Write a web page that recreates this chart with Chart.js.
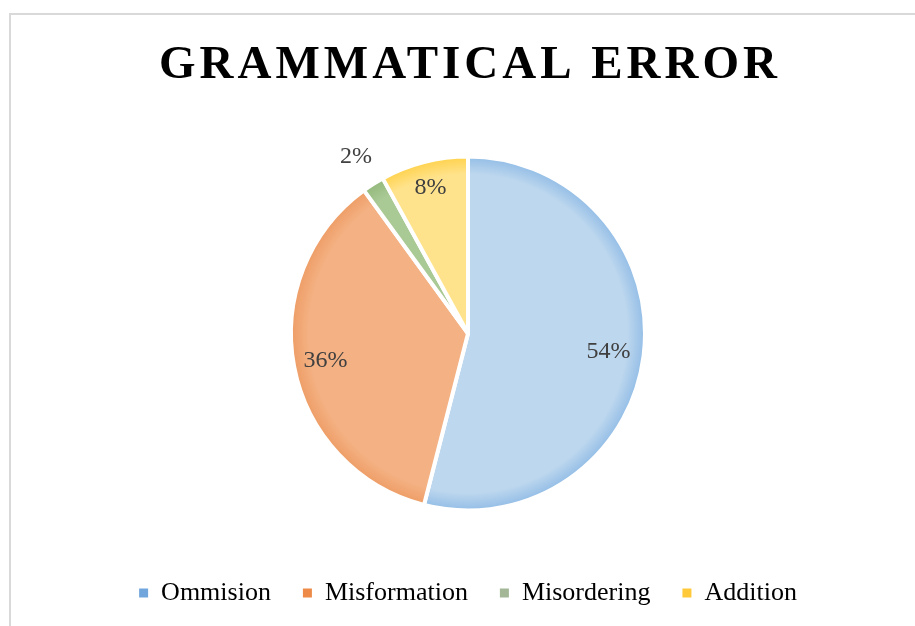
<!DOCTYPE html>
<html>
<head>
<meta charset="utf-8">
<script src="https://cdn.jsdelivr.net/npm/chart.js@4"></script>
<style>
  html, body { margin: 0; padding: 0; background: #fff; overflow: hidden; }
  #frame {
    position: absolute; left: 9px; top: 13px;
    border: 2px solid #d9d9d9;
    width: 914px; height: 640px;
  }
  canvas { display: block; }
</style>
</head>
<body>
<div id="frame"><canvas id="chart" width="914" height="640"></canvas></div>
<script>
const TITLE      = "GRAMMATICAL ERROR";
const CATEGORIES = ["Ommision", "Misformation", "Misordering", "Addition"];
const VALUES     = [54, 36, 2, 8];

// slice fills (light centre / darker rim) and legend marker colours
const FILLS   = ["#bdd7ee", "#f4b183", "#a9c995", "#ffe38c"];
const EDGES   = ["#93bde6", "#ee9d66", "#94b97c", "#ffd24d"];
const MARKERS = ["#70a6dc", "#ed8a48", "#a3b797", "#ffc93a"];

// how far out each percentage sits, as a share of the radius
const LABEL_POS = [0.8, 0.82, 1.18, 0.85];
const PIE_RADIUS = 177;

function sliceFill(c) {
  const i = c.dataIndex;
  const area = c.chart.chartArea;
  if (!area) return FILLS[i];
  const cx = (area.left + area.right) / 2;
  const cy = (area.top + area.bottom) / 2;
  const g = c.chart.ctx.createRadialGradient(cx, cy, 0, cx, cy, PIE_RADIUS);
  g.addColorStop(0, FILLS[i]);
  g.addColorStop(0.9, FILLS[i]);
  g.addColorStop(1, EDGES[i]);
  return g;
}

// title drawn by hand so it can get the wide letter spacing
const spacedTitle = {
  id: "spacedTitle",
  afterDraw(chart) {
    const ctx = chart.ctx;
    ctx.save();
    ctx.font = 'bold 47px "Liberation Serif", "Times New Roman", serif';
    ctx.letterSpacing = "4px";
    ctx.fillStyle = "#000";
    ctx.textAlign = "center";
    ctx.textBaseline = "alphabetic";
    ctx.fillText(TITLE, chart.width / 2 + 2, 63);
    ctx.restore();
  },
};

const pctLabels = {
  id: "pctLabels",
  afterDatasetsDraw(chart) {
    const ctx = chart.ctx;
    const meta = chart.getDatasetMeta(0);
    const total = VALUES.reduce((a, b) => a + b, 0);
    ctx.save();
    ctx.font = '24px "Liberation Serif", "Times New Roman", serif';
    ctx.fillStyle = "#404040";
    ctx.textAlign = "center";
    ctx.textBaseline = "middle";
    meta.data.forEach((arc, i) => {
      const { x, y, startAngle, endAngle, outerRadius } =
        arc.getProps(["x", "y", "startAngle", "endAngle", "outerRadius"], true);
      const mid = (startAngle + endAngle) / 2;
      const r = outerRadius * LABEL_POS[i];
      const txt = Math.round(VALUES[i] / total * 100) + "%";
      ctx.fillText(txt, x + Math.cos(mid) * r, y + Math.sin(mid) * r);
    });
    ctx.restore();
  },
};

new Chart(document.getElementById("chart"), {
  type: "pie",
  data: {
    labels: CATEGORIES,
    datasets: [{
      data: VALUES,
      backgroundColor: sliceFill,
      borderColor: "#ffffff",
      borderWidth: 4,
      radius: PIE_RADIUS,
    }],
  },
  options: {
    responsive: false,
    animation: false,
    devicePixelRatio: 1,
    layout: { padding: { top: 104, bottom: 39, left: 0, right: 0 } },
    plugins: {
      title: { display: false },
      tooltip: { enabled: false },
      legend: {
        display: true,
        position: "bottom",
        labels: {
          boxWidth: 9,
          boxHeight: 9,
          padding: 32,
          color: "#000",
          font: { family: '"Liberation Serif", "Times New Roman", serif', size: 26 },
          generateLabels: chart => CATEGORIES.map((name, i) => ({
            text: name,
            fillStyle: MARKERS[i],
            strokeStyle: MARKERS[i],
            lineWidth: 0,
            hidden: false,
            index: i,
          })),
        },
      },
    },
  },
  plugins: [spacedTitle, pctLabels],
});
</script>
</body>
</html>
